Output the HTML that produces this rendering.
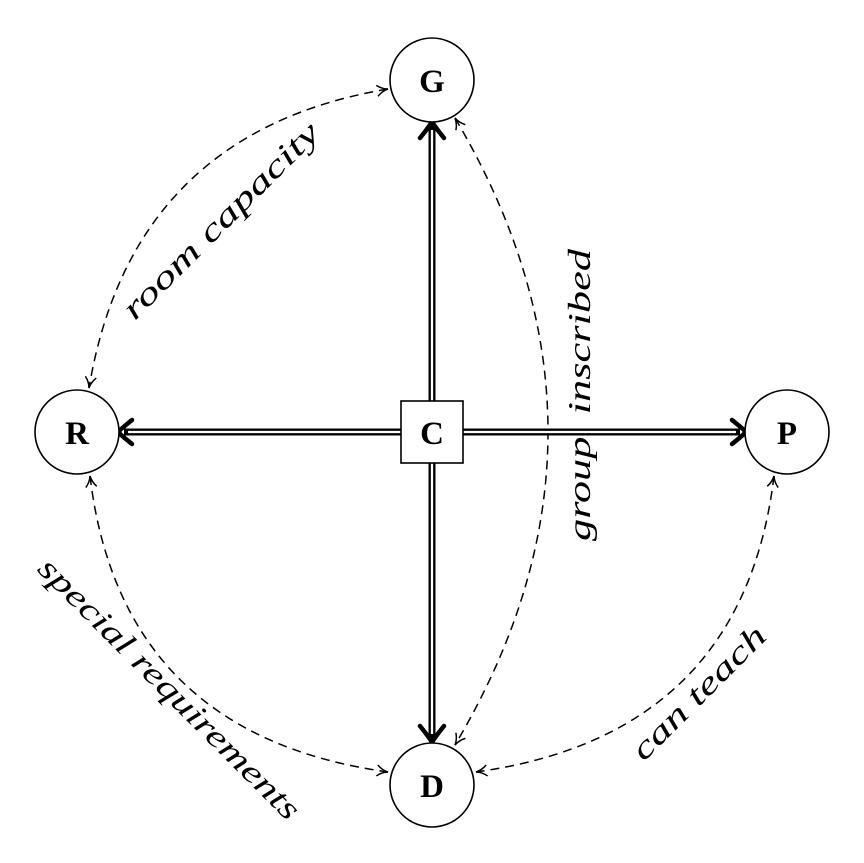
<!DOCTYPE html>
<html><head><meta charset="utf-8"><style>
html,body{margin:0;padding:0;background:#fff;}
svg{display:block;}
text{font-family:"Liberation Serif",serif;}
.lbl{font-style:italic;font-size:32px;}
.node{font-weight:bold;font-size:33px;}
</style></head><body>
<svg width="864" height="863" viewBox="0 0 864 863">
<defs>
<marker id="ah" viewBox="0 0 14 14" refX="12" refY="7" markerWidth="14" markerHeight="14" markerUnits="userSpaceOnUse" orient="auto-start-reverse">
<path d="M1,1.5 Q6,6 12,7 Q6,8 1,12.5" fill="none" stroke="#000" stroke-width="1.5"/>
</marker>
</defs>
<g fill="none" stroke="#000" stroke-width="1.5" stroke-dasharray="9,6" marker-start="url(#ah)" marker-end="url(#ah)">
<path d="M388,89 Q132,132 89,388"/>
<path d="M90,476 Q121,735 388,772"/>
<path d="M774,476 Q743,735 476,772"/>
<path d="M455,118 Q641,432 455,745"/>
</g>
<g>
<g stroke="#000" stroke-width="7" fill="none">
<line x1="432" y1="401" x2="432" y2="126"/><line x1="432" y1="463" x2="432" y2="738"/>
<line x1="401" y1="432" x2="124" y2="432"/><line x1="463" y1="432" x2="740" y2="432"/>
</g>
<g stroke="#fff" stroke-width="2.3" fill="none">
<line x1="432" y1="401" x2="432" y2="130"/><line x1="432" y1="463" x2="432" y2="734"/>
<line x1="401" y1="432" x2="128" y2="432"/><line x1="463" y1="432" x2="736" y2="432"/>
</g>
<g stroke="#000" stroke-width="4.5" fill="none" stroke-linecap="round">
<path d="M420,138 Q428,128 432,122 Q436,128 444,138"/>
<path d="M420,726 Q428,736 432,742 Q436,736 444,726"/>
<path d="M132,420 Q122,428 118,432 Q122,436 132,444"/>
<path d="M732,420 Q742,428 746,432 Q742,436 732,444"/>
</g>
</g>
<g fill="#fff" stroke="#000" stroke-width="1.6">
<circle cx="432" cy="80" r="42"/>
<circle cx="77" cy="432" r="42"/>
<circle cx="787" cy="432" r="42"/>
<circle cx="432" cy="785" r="42"/>
<rect x="401" y="401" width="62" height="62"/>
</g>
<g class="node" text-anchor="middle">
<text x="432" y="92">G</text>
<text x="77" y="444">R</text>
<text x="787" y="444">P</text>
<text x="432" y="797">D</text>
<text x="432" y="444">C</text>
</g>
<g class="lbl">
<text transform="translate(228,228) rotate(-45)" x="-132" y="0" textLength="264" lengthAdjust="spacingAndGlyphs">room capacity</text>
<text transform="translate(590,395) rotate(-90)" x="-146" y="0" textLength="292" lengthAdjust="spacingAndGlyphs">group&#160;&#160;inscribed</text>
<text transform="translate(706,700) rotate(-45)" x="-88" y="0" textLength="176" lengthAdjust="spacingAndGlyphs">can teach</text>
<text transform="translate(162,696) rotate(45)" x="-178" y="0" textLength="356" lengthAdjust="spacingAndGlyphs">special requirements</text>
</g>
</svg>
</body></html>
